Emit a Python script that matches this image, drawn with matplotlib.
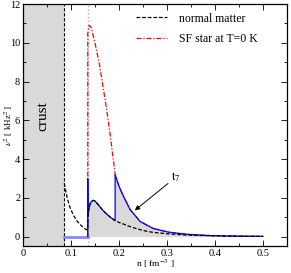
import numpy as np
import matplotlib
matplotlib.use('Agg')
import matplotlib.pyplot as plt
from matplotlib.ticker import MultipleLocator

plt.rcParams['font.family'] = ['Liberation Serif', 'DejaVu Serif']
plt.rcParams['mathtext.fontset'] = 'stix'

# crust boundary and onset of superfluidity
n_crust = 0.086
n_sf = 0.135

# normal matter (black dashed)
n_normal = [0.086, 0.088, 0.092, 0.098, 0.105, 0.112, 0.120, 0.129, 0.135,
            0.1355, 0.137, 0.140, 0.1435, 0.1465, 0.150, 0.155, 0.160, 0.167,
            0.175, 0.183, 0.192, 0.200, 0.209, 0.220, 0.235, 0.251, 0.270,
            0.303, 0.340, 0.380, 0.420, 0.460, 0.500]
v_normal = [2.75, 2.50, 2.00, 1.50, 1.10, 0.82, 0.60, 0.40, 0.33,
            1.10, 1.40, 1.70, 1.83, 1.87, 1.83, 1.70, 1.55, 1.34,
            1.15, 0.98, 0.82, 0.73, 0.65, 0.54, 0.42, 0.31, 0.22,
            0.14, 0.08, 0.05, 0.03, 0.015, 0.01]

# SF star at T=0 K (red dash-dot)
n_sf0 = [0.135, 0.135, 0.138, 0.142, 0.150, 0.160, 0.174, 0.181, 0.192,
         0.200, 0.209, 0.223, 0.244, 0.271, 0.303, 0.340, 0.380, 0.420,
         0.460, 0.500]
v_sf0 = [0.0, 10.5, 10.9, 10.8, 10.0, 8.8, 6.6, 5.4, 3.2,
         2.6, 2.1, 1.4, 0.78, 0.42, 0.23, 0.12, 0.06, 0.03,
         0.015, 0.01]

# t7 curve (blue)
n_t7 = [0.135, 0.135, 0.1355, 0.137, 0.140, 0.1435, 0.1465, 0.150, 0.155,
        0.160, 0.167, 0.175, 0.183, 0.192, 0.192, 0.200, 0.209, 0.223,
        0.244, 0.271, 0.303, 0.340, 0.380, 0.420, 0.460, 0.500]
v_t7 = [0.0, 3.0, 1.10, 1.40, 1.70, 1.83, 1.87, 1.83, 1.70,
        1.55, 1.34, 1.15, 0.98, 0.82, 3.2, 2.6, 2.1, 1.4,
        0.78, 0.42, 0.23, 0.12, 0.06, 0.03, 0.015, 0.01]

fig = plt.figure(figsize=(2.91, 2.73), dpi=100)
ax = fig.add_axes([0.079, 0.098, 0.907, 0.887])

# shaded regions
ax.axvspan(0, n_crust, color='#d9d9d9', lw=0, zorder=0)
ax.fill_between(n_t7[1:], 0, v_t7[1:], color='#d9d9d9', lw=0, zorder=0)
ax.axvline(n_crust, color='black', ls='--', lw=0.8, dashes=(3, 1.5), zorder=1)
ax.axvline(n_sf, color='#aaaaaa', ls=':', lw=1.0, zorder=1)

ax.plot([n_crust, n_sf], [0, 0], color='#8888ff', lw=2.0, zorder=2)
ax.plot(n_sf0, v_sf0, color='red', lw=0.9, dashes=(4, 1.5, 1, 1.5),
        label='SF star at T=0 K', zorder=3)
ax.plot(n_t7, v_t7, color='blue', lw=0.9, zorder=4)
ax.plot(n_normal, v_normal, color='black', lw=0.9, dashes=(3, 1.5),
        label='normal matter', zorder=5)

ax.text(0.042, 6.2, 'crust', rotation=90, fontsize=11, ha='center', va='center')
ax.annotate(r'$\mathrm{t}_7$', xy=(0.233, 1.35), xytext=(0.308, 2.7),
            fontsize=9, ha='left', va='bottom',
            arrowprops=dict(arrowstyle='-|>', color='black', lw=0.7,
                            mutation_scale=7, shrinkA=0, shrinkB=0))

ax.set_xlim(0, 0.55)
ax.set_ylim(-0.5, 12)
ax.xaxis.set_major_locator(MultipleLocator(0.1))
ax.xaxis.set_minor_locator(MultipleLocator(0.05))
ax.yaxis.set_major_locator(MultipleLocator(2))
ax.yaxis.set_minor_locator(MultipleLocator(1))
ax.set_xticks(np.arange(0, 0.51, 0.1))
ax.set_xticklabels(['0', '0.1', '0.2', '0.3', '0.4', '0.5'])
ax.tick_params(which='both', direction='in', top=True, right=True,
               labelsize=7.5, width=0.6)
ax.tick_params(which='major', length=4, pad=2)
ax.tick_params(which='minor', length=2)
for s in ax.spines.values():
    s.set_linewidth(0.9)

ax.set_xlabel(r'n [ fm$^{-3}$ ]', fontsize=6.8)
ax.set_ylabel(r'$\nu^2$ [ kHz$^2$ ]', fontsize=6.5)
ax.xaxis.set_label_coords(0.5, -0.046)
ax.yaxis.set_label_coords(-0.03, 0.5)

h, l = ax.get_legend_handles_labels()
ax.legend(h[::-1], l[::-1], loc='upper left', bbox_to_anchor=(0.43, 0.965),
          borderaxespad=0, borderpad=0, frameon=False, fontsize=8.5,
          handlelength=2.6, handletextpad=1.0, labelspacing=0.75)

fig.savefig('out.png', dpi=100)
